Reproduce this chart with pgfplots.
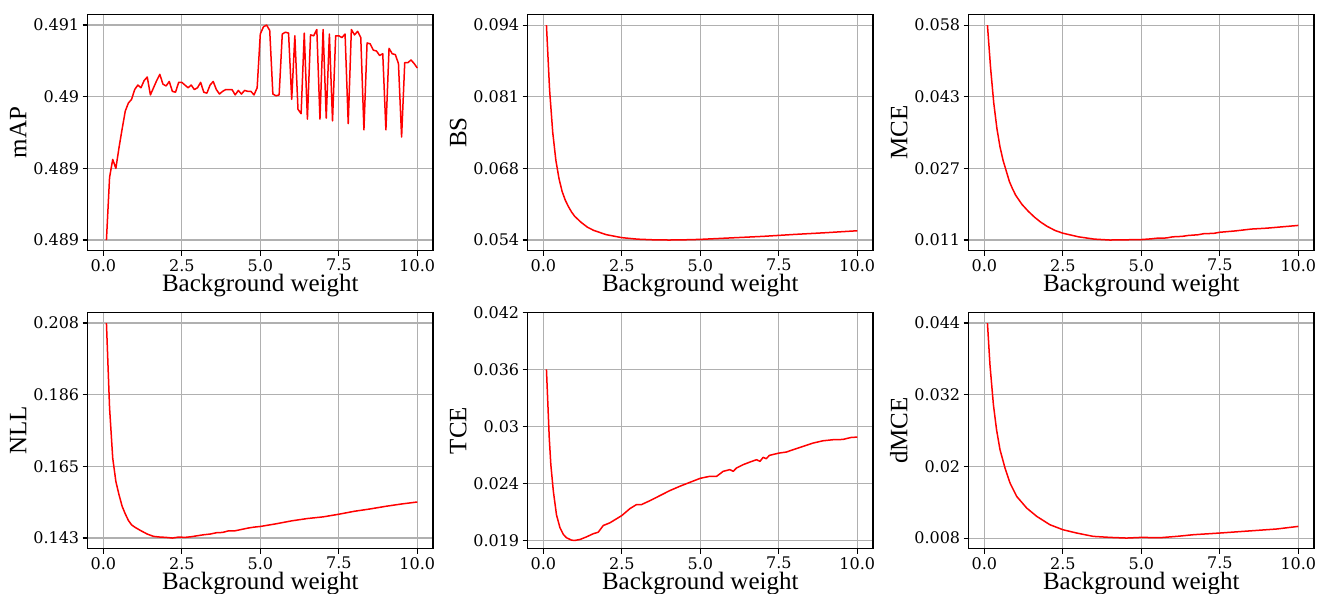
\documentclass[border=0pt]{standalone}
\usepackage{fontspec}
\setmainfont{Liberation Serif}
\newfontfamily\tickfamily{DejaVu Serif}
\usepackage{pgfplots}
\pgfplotsset{compat=1.18}

\definecolor{gridgray}{RGB}{176,176,176}

\pgfplotsset{
  panel/.style={
    scale only axis, width=345.4pt, height=236.5pt,
    xmin=-0.5, xmax=10.5,
    xtick={0,2.5,5,7.5,10}, xticklabels={0.0,2.5,5.0,7.5,10.0},
    scaled y ticks=false, scaled x ticks=false,
    tick align=outside, tick pos=left, major tick length=4.9pt,
    tick style={black, line width=1.1pt},
    grid=major, grid style={gridgray, line width=1.1pt},
    axis line style={line width=1.1pt},
    ticklabel style={font=\tickfamily\fontsize{16}{16}\selectfont},
    label style={font=\fontsize{25}{25}\selectfont},
    xlabel={Background weight},
    xlabel style={yshift=4pt},
  },
  curve/.style={red, line width=1.5pt, mark=none, line join=round},
}

\begin{document}
\begin{tikzpicture}
\useasboundingbox (0,0) rectangle (1317pt,594pt);

% mAP
\begin{axis}[panel, at={(87.6pt,579.7pt)}, anchor=north west,
  ylabel={mAP}, ymin=0.48853, ymax=0.49117,
  ytick={0.48865,0.48945,0.49025,0.49105}, yticklabels={0.489,0.489,0.49,0.491}]
\addplot[curve] coordinates {
(0.1,0.48865)(0.2,0.48935)(0.3,0.48955)(0.4,0.48945)(0.5,0.48968)
(0.6,0.48989)(0.7,0.49009)(0.8,0.49018)(0.9,0.49022)(1.0,0.49033)
(1.1,0.49038)(1.2,0.49035)(1.3,0.49043)(1.4,0.49047)(1.5,0.49027)
(1.6,0.49035)(1.7,0.49043)(1.8,0.49050)(1.9,0.49039)(2.0,0.49037)
(2.1,0.49042)(2.2,0.49031)(2.3,0.49030)(2.4,0.49041)(2.5,0.49041)
(2.6,0.49038)(2.7,0.49035)(2.8,0.49038)(2.9,0.49033)(3.0,0.49035)
(3.1,0.49041)(3.2,0.49030)(3.3,0.49029)(3.4,0.49038)(3.5,0.49042)
(3.6,0.49033)(3.7,0.49028)(3.8,0.49031)(3.9,0.49033)(4.0,0.49033)
(4.1,0.49033)(4.2,0.49027)(4.3,0.49032)(4.4,0.49028)(4.5,0.49032)
(4.6,0.49031)(4.7,0.49031)(4.8,0.49027)(4.9,0.49035)(5.0,0.49095)
(5.1,0.49103)(5.2,0.49105)(5.3,0.49099)(5.4,0.49028)(5.5,0.49026)
(5.6,0.49027)(5.7,0.49095)(5.8,0.49097)(5.9,0.49096)(6.0,0.49022)
(6.1,0.49093)(6.2,0.49011)(6.3,0.49006)(6.4,0.49096)(6.5,0.49000)
(6.6,0.49094)(6.7,0.49093)(6.8,0.49100)(6.9,0.49000)(7.0,0.49100)
(7.1,0.49001)(7.2,0.49095)(7.3,0.48998)(7.4,0.49093)(7.5,0.49093)
(7.6,0.49091)(7.7,0.49095)(7.8,0.48995)(7.9,0.49100)(8.0,0.49094)
(8.1,0.49098)(8.2,0.49091)(8.3,0.48988)(8.4,0.49085)(8.5,0.49084)
(8.6,0.49077)(8.7,0.49076)(8.8,0.49071)(8.9,0.49073)(9.0,0.48988)
(9.1,0.49079)(9.2,0.49073)(9.3,0.49072)(9.4,0.49062)(9.5,0.48980)
(9.6,0.49063)(9.7,0.49063)(9.8,0.49066)(9.9,0.49062)(10.0,0.49057)
};
\end{axis}

% BS
\begin{axis}[panel, at={(527.6pt,579.7pt)}, anchor=north west,
  ylabel={BS}, ymin=0.0523, ymax=0.0962,
  ytick={0.0543,0.0676,0.0809,0.0942}, yticklabels={0.054,0.068,0.081,0.094}]
\addplot[curve] coordinates {
(0.1,0.0942)(0.2,0.0822)(0.3,0.0743)(0.4,0.0691)(0.5,0.0657)(0.6,0.0633)
(0.7,0.0617)(0.8,0.0605)(0.9,0.0595)(1.0,0.0587)(1.2,0.0576)(1.4,0.0567)
(1.6,0.0561)(1.8,0.0557)(2.0,0.0553)(2.5,0.05474)(3.0,0.05446)(3.5,0.05434)
(4.0,0.05430)(4.5,0.05434)(5.0,0.05442)(6.0,0.05470)(7.0,0.05498)
(8.0,0.05534)(9.0,0.05566)(10.0,0.05602)
};
\end{axis}

% MCE
\begin{axis}[panel, at={(968.6pt,579.7pt)}, anchor=north west,
  ylabel={MCE}, ymin=0.00884, ymax=0.06066,
  ytick={0.0112,0.0269,0.0426,0.0583}, yticklabels={0.011,0.027,0.043,0.058}]
\addplot[curve] coordinates {
(0.1,0.0583)(0.2,0.0489)(0.3,0.0413)(0.4,0.0357)(0.5,0.0316)(0.6,0.0286)
(0.7,0.0263)(0.8,0.0240)(0.9,0.0224)(1.0,0.0210)(1.2,0.0190)(1.4,0.0175)
(1.6,0.0162)(1.8,0.0151)(2.0,0.0142)(2.25,0.0133)(2.5,0.0127)(3.0,0.0119)
(3.5,0.0114)(4.0,0.0112)(4.5,0.01125)(5.0,0.0113)(5.3,0.01145)(5.5,0.0116)
(5.8,0.01165)(6.0,0.0119)(6.3,0.0120)(6.5,0.0122)(6.8,0.01235)(7.0,0.0126)
(7.3,0.01265)(7.5,0.0129)(8.0,0.0132)(8.5,0.0136)(9.0,0.0138)(9.5,0.0141)
(10.0,0.0144)
};
\end{axis}

% NLL
\begin{axis}[panel, at={(87.6pt,281.7pt)}, anchor=north west,
  ylabel={NLL}, ymin=0.13975, ymax=0.21125,
  ytick={0.1430,0.16467,0.18633,0.2080}, yticklabels={0.143,0.165,0.186,0.208}]
\addplot[curve] coordinates {
(0.1,0.2080)(0.2,0.1823)(0.3,0.1672)(0.4,0.1601)(0.5,0.1561)(0.6,0.1526)
(0.7,0.1503)(0.8,0.1483)(0.9,0.1470)(1.0,0.1463)(1.2,0.1452)(1.4,0.1442)
(1.6,0.1435)(1.8,0.1433)(2.0,0.1432)(2.2,0.1430)(2.4,0.1433)(2.6,0.1432)
(2.8,0.1434)(3.0,0.1437)(3.2,0.1440)(3.4,0.1442)(3.6,0.1446)(3.8,0.1447)
(4.0,0.1452)(4.2,0.1452)(4.4,0.1456)(4.6,0.1460)(4.8,0.1463)(5.0,0.1465)
(5.5,0.1473)(6.0,0.1482)(6.5,0.1489)(7.0,0.1494)(7.5,0.1502)(8.0,0.1511)
(8.5,0.1518)(9.0,0.1526)(9.5,0.1533)(10.0,0.1539)
};
\end{axis}

% TCE
\begin{axis}[panel, at={(527.6pt,281.7pt)}, anchor=north west,
  ylabel={TCE}, ymin=0.01775, ymax=0.0418,
  ytick={0.0186,0.0244,0.0302,0.0360,0.0418}, yticklabels={0.019,0.024,0.03,0.036,0.042}]
\addplot[curve] coordinates {
(0.1,0.0360)(0.19,0.0290)(0.24,0.0263)(0.32,0.0236)(0.42,0.0212)(0.53,0.0199)
(0.64,0.0192)(0.74,0.01887)(0.9,0.01863)(1.0,0.0186)(1.17,0.0187)(1.38,0.01897)
(1.59,0.01928)(1.75,0.01944)(1.91,0.02012)(2.12,0.02039)(2.33,0.0208)
(2.5,0.02113)(2.76,0.02184)(2.97,0.02225)(3.13,0.02225)(3.4,0.02265)
(3.61,0.02299)(3.82,0.02333)(4.03,0.02367)(4.35,0.02411)(4.67,0.02451)
(5.0,0.02492)(5.3,0.02512)(5.52,0.02512)(5.73,0.02563)(5.94,0.0258)
(6.05,0.02563)(6.15,0.02596)(6.36,0.0263)(6.58,0.02657)(6.79,0.02681)
(6.9,0.02664)(7.0,0.02705)(7.1,0.02691)(7.2,0.02725)(7.5,0.02748)
(7.74,0.02759)(7.95,0.02782)(8.27,0.02816)(8.59,0.0285)(8.9,0.02873)
(9.22,0.02884)(9.54,0.02887)(9.8,0.02907)(10.0,0.02911)
};
\end{axis}

% dMCE
\begin{axis}[panel, at={(968.6pt,281.7pt)}, anchor=north west,
  ylabel={dMCE}, ymin=0.0062, ymax=0.0458,
  ytick={0.008,0.02,0.032,0.044}, yticklabels={0.008,0.02,0.032,0.044}]
\addplot[curve] coordinates {
(0.1,0.0440)(0.18,0.03702)(0.29,0.03032)(0.39,0.02614)(0.5,0.02279)
(0.66,0.01972)(0.82,0.01721)(1.03,0.01498)(1.35,0.01302)(1.67,0.01163)
(2.09,0.01023)(2.5,0.0094)(2.94,0.00884)(3.47,0.00828)(4.0,0.00811)
(4.53,0.0080)(5.0,0.00811)(5.6,0.00806)(6.13,0.00828)(6.66,0.00856)
(7.5,0.00884)(8.25,0.00912)(9.3,0.00951)(10.0,0.00995)
};
\end{axis}
\end{tikzpicture}
\end{document}
